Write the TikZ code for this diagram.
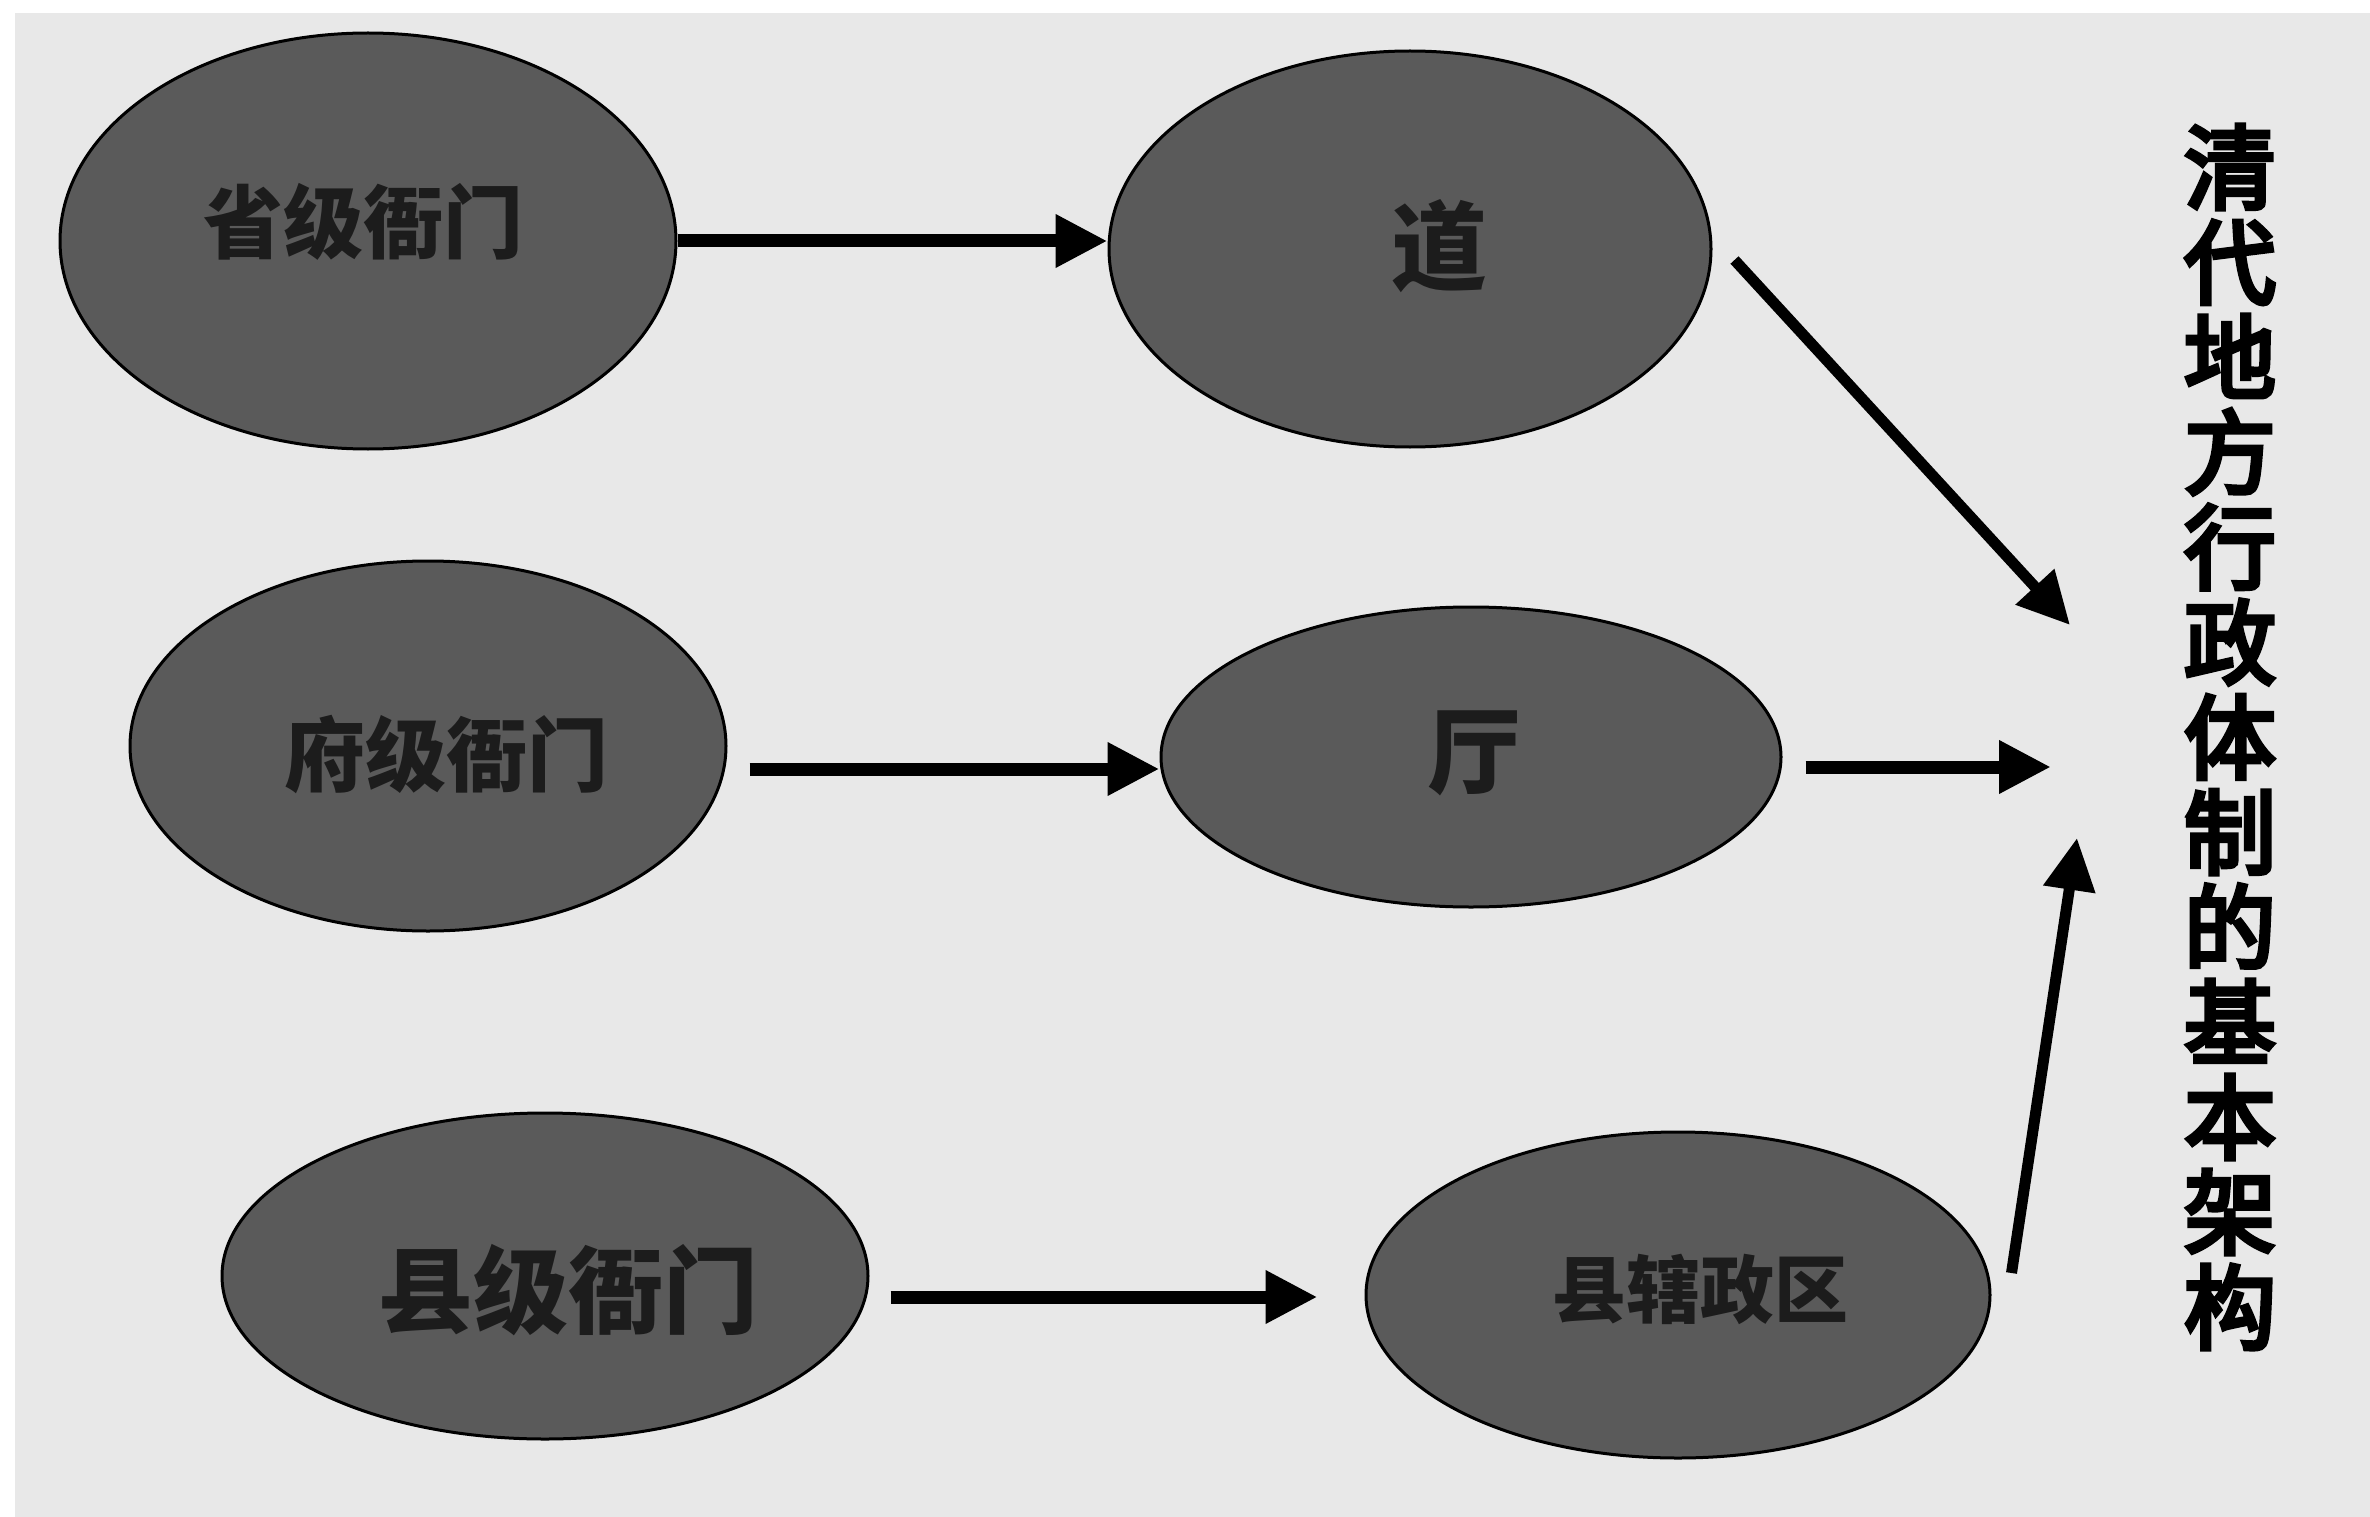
\documentclass[tikz,border=0pt]{standalone}
\usepackage{fontspec}
\newfontfamily\cjk{Noto Sans CJK SC}
\newfontfamily\cjktitle{Noto Sans CJK SC}[FakeBold=5]
\usetikzlibrary{shapes.geometric,arrows.meta,calc}
\definecolor{paper}{HTML}{E8E8E8}
\definecolor{ovalfill}{HTML}{5A5A5A}
\definecolor{ink}{HTML}{1C1C1C}
\tikzset{
  oval/.style={ellipse, draw=black, line width=3pt, fill=ovalfill, inner sep=0pt},
  lbl/.style={text=ink, inner sep=0pt, font=\cjk\bfseries\fontsize{#1}{#1}\selectfont},
  arr/.style={draw=black, line width=13pt, -{Triangle[length=52pt,width=50pt]}},
}
\begin{document}
\begin{tikzpicture}[x=1pt,y=-1pt]
  \useasboundingbox (0,0) rectangle (2370,1517);
  \fill[white] (0,0) rectangle (2370,1517);
  \fill[paper] (15,13) rectangle (2370,1517);

  % administrative levels (left) and their units (right)
  \node[oval, minimum width=616pt, minimum height=416pt] (sheng) at (368,241) {};
  \node[oval, minimum width=602pt, minimum height=396pt] (dao) at (1410,249) {};
  \node[oval, minimum width=596pt, minimum height=370pt] (fu) at (428,746) {};
  \node[oval, minimum width=620pt, minimum height=300pt] (ting) at (1471,757) {};
  \node[oval, minimum width=646pt, minimum height=326pt] (xian) at (545,1276) {};
  \node[oval, minimum width=624pt, minimum height=326pt] (xiaqu) at (1678,1295) {};

  \node[lbl=80] (shengT) at (363,222) {省级衙门};
  \node[lbl=96] (daoT) at (1439,246) {道};
  \node[lbl=81] (fuT) at (446,755) {府级衙门};
  \node[lbl=94] (tingT) at (1474,753) {厅};
  \node[lbl=95] (xianT) at (568,1290) {县级衙门};
  \node[lbl=74] (xiaquT) at (1700,1289) {县辖政区};

  % vertical title
  \node[text=black, inner sep=0pt, align=center,
        font=\cjktitle\fontsize{92}{95}\selectfont] (title) at (2230,737)
    {清\\代\\地\\方\\行\\政\\体\\制\\的\\基\\本\\架\\构};

  % start points just off the ellipse outlines
  \coordinate (s2) at ($(fu.east)+(22,23)$);
  \coordinate (s3) at ($(xian.east)+(21,21)$);
  \coordinate (e3) at ($(xiaqu.west)+(-47,2)$);
  \coordinate (s4) at ($(dao.east)+(22,11)$);
  \coordinate (s5) at ($(ting.east)+(23,10)$);
  \coordinate (s6) at ($(xiaqu.east)+(20,-22)$);

  % free ends of the converging arrows
  \coordinate (t1) at (2070,625);
  \coordinate (t2) at (2051,767);
  \coordinate (t3) at (2077,838);

  % connectors
  \draw[arr] (sheng.east) -- (sheng.east -| dao.west);
  \draw[arr] (s2) -- (s2 -| ting.west);
  \draw[arr] (s3) -- (e3);
  \draw[arr, line width=11pt] (s4) -- (t1);
  \draw[arr] (s5) -- (t2);
  \draw[arr, line width=11pt] (s6) -- (t3);
\end{tikzpicture}
\end{document}
